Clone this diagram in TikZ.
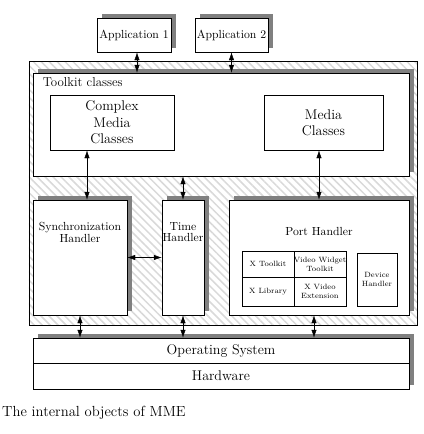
\documentclass[tikz,border=0pt]{standalone}
\usepackage{tikz}
\usetikzlibrary{arrows.meta, positioning, calc, shadows, patterns.meta}

\begin{document}
\begin{tikzpicture}[
        x=0.3mm, y=-0.3mm,
        box/.style={rectangle, draw=black, fill=white, thin, inner sep=0pt, align=center},
        shadowed/.style={general shadow={fill=gray, shadow xshift=1.5mm, shadow yshift=1.2mm}},
        cell/.style={box, font=\fontsize{6.5}{7.5}\selectfont},
        hatched/.style={draw=black, thin, inner sep=0pt, pattern={Lines[angle=-45,distance=4.8pt,line width=1.3pt]}, pattern color=gray!30},
        caption/.style={align=center, font=\fontsize{10}{10}\selectfont},
        arrow/.style={thin, {Latex[length=2.4mm,width=1.6mm]}-{Latex[length=2.4mm,width=1.6mm]}}
    ]
    \useasboundingbox (0,0) rectangle (424,434);

    % --- MME AREA ---
    \node (mme) [hatched, minimum width=116.4mm, minimum height=79.2mm] at (223,193) {};

    % --- APPLICATIONS ---
    \node (app1) [box, shadowed, minimum width=22.2mm, minimum height=10.2mm] at (134,35) {Application 1};
    \node (app2) [box, shadowed, minimum width=21.9mm, minimum height=10.2mm] at (231.5,35) {Application 2};

    % --- TOOLKIT CLASSES ---
    \node (tk) [box, shadowed, minimum width=112.8mm, minimum height=30.9mm] at (221,124.5) {};
    \node (tklabel) [below right=0.3mm and 1.8mm of tk.north west, font=\fontsize{11}{13}\selectfont] {Toolkit classes};
    \node (cmc) [box, minimum width=37.2mm, minimum height=16.5mm, font=\large] at (112,122.5) {Complex\\Media\\Classes};
    \node (mc) [box, minimum width=35.7mm, minimum height=16.5mm, font=\large] at (323.5,122.5) {Media\\Classes};

    % --- HANDLERS ---
    \node (sync) [box, shadowed, minimum width=28.2mm, minimum height=34.5mm] at (80,257.5) {};
    \node (synclabel) [caption, below=5.5mm of sync.north] {Synchronization\\Handler};
    \node (time) [box, shadowed, minimum width=12.6mm, minimum height=34.5mm] at (183,257.5) {};
    \node (timelabel) [caption, below=5.5mm of time.north] {Time\\Handler};
    \node (port) [box, shadowed, minimum width=54mm, minimum height=34.5mm] at (319,257.5) {};
    \node (portlabel) [caption, below=7mm of port.north] {Port Handler};

    % --- PORT HANDLER PARTS ---
    \node (xtk) [cell, minimum width=15.6mm, minimum height=7.8mm] at (268,264) {X Toolkit};
    \node (vwt) [cell, minimum width=15.6mm, minimum height=7.8mm] at (320,264) {Video Widget\\Toolkit};
    \node (xlib) [cell, minimum width=15.6mm, minimum height=8.7mm] at (268,291.5) {X Library};
    \node (xve) [cell, minimum width=15.6mm, minimum height=8.7mm] at (320,291.5) {X Video\\Extension};
    \node (dev) [cell, minimum width=12mm, minimum height=15.9mm] at (377,279.5) {Device\\Handler};

    % --- OS / HARDWARE ---
    \node (base) [box, shadowed, minimum width=112.8mm, minimum height=15.3mm] at (221,363.5) {};
    \node (os) [box, minimum width=112.8mm, minimum height=7.5mm, font=\large] at (221,350.5) {Operating System};
    \node (hw) [box, minimum width=112.8mm, minimum height=7.8mm, font=\large] at (221,376) {Hardware};

    \node (title) [anchor=west, inner sep=0pt, font=\fontsize{12.5}{14}\selectfont] at (2,413) {The internal objects of MME};

    % --- ARROWS ---
    \draw [arrow] ([xshift=0.9mm]app1.south) -- ([xshift=0.9mm]app1.south |- tk.north);
    \draw [arrow] (app2.south) -- (app2.south |- tk.north);
    \draw [arrow] ([xshift=2.1mm]sync.north |- cmc.south) -- ([xshift=2.1mm]sync.north);
    \draw [arrow] (tk.south -| time.north) -- (time.north);
    \draw [arrow] (mc.south -| port.north) -- (port.north);
    \draw [arrow] (sync.east) -- (time.west);
    \draw [arrow] (sync.south) -- (sync.south |- os.north);
    \draw [arrow] (time.south) -- (time.south |- os.north);
    \draw [arrow] ([xshift=-1.5mm]port.south) -- ([xshift=-1.5mm]port.south |- os.north);

\end{tikzpicture}
\end{document}
